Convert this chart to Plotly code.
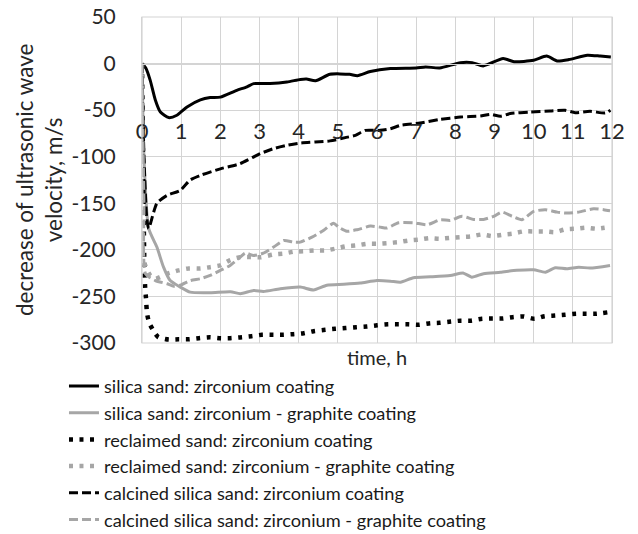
import plotly.graph_objects as go

# ---- data ----
names = [
    "silica sand: zirconium coating",
    "silica sand: zirconium - graphite coating",
    "reclaimed sand: zirconium coating",
    "reclaimed sand: zirconium - graphite coating",
    "calcined silica sand: zirconium coating",
    "calcined silica sand: zirconium - graphite coating",
]

s1_x = [0, 0.1, 0.21, 0.34, 0.47, 0.68, 0.89, 1.15, 1.49, 1.74, 2.0, 2.42, 2.68, 2.85, 3.27, 3.7, 4.04, 4.2, 4.43, 4.8,
        5.3, 5.5, 5.83, 6.34, 7.0, 7.24, 7.6, 8.13, 8.43, 8.71, 9.22, 9.5, 10.0, 10.33, 10.6, 10.9, 11.37, 11.7, 11.97]
s1_y = [0, -5, -18, -39, -52, -58, -55.5, -46.6, -39, -36.5, -36, -28.7, -25, -21.5, -21.5, -19.8, -17, -16.5, -18.5, -11.5,
        -11.5, -13, -8.6, -5.4, -4.7, -3.6, -4.7, 1, 1, -2.5, 5.4, 2, 3.5, 8, 2.8, 4.3, 9, 8, 7]

s2_x = [0, 0.05, 0.17, 0.38, 0.55, 0.72, 0.98, 1.23, 1.74, 2.26, 2.51, 2.85, 3.1, 3.53, 4.04, 4.38, 4.72, 5.15, 5.57,
        6.0, 6.34, 6.6, 6.93, 7.36, 7.87, 8.21, 8.42, 8.72, 9.15, 9.57, 10.0, 10.3, 10.55, 10.85, 11.15, 11.44, 11.95]
s2_y = [0, -100, -177, -197, -218.6, -233, -240, -245.4, -246, -245, -247, -243.6, -244.6, -241.8, -240, -243, -238,
        -237, -235.7, -233, -233.6, -234.7, -230, -229, -227.5, -225, -229.3, -225.6, -224, -222, -221.4, -224, -219.2,
        -220.3, -218.6, -219.6, -216.7]

s3_x = [0, 0.03, 0.06, 0.08, 0.1, 0.13, 0.19, 0.34, 0.42, 0.68, 0.93, 1.19, 1.45, 1.73, 2.0, 2.25, 2.5, 2.8, 3.06, 3.3,
        3.6, 3.87, 4.13, 4.38, 4.68, 4.93, 5.2, 5.47, 5.74, 6.0, 6.28, 6.55, 6.8, 7.06, 7.36, 7.6, 7.89, 8.13, 8.4, 8.68,
        8.94, 9.2, 9.46, 9.74, 10.02, 10.28, 10.55, 10.8, 11.08, 11.34, 11.6, 11.92]
s3_y = [0, -120, -215, -240, -251, -268.6, -279, -290, -293.8, -296.3, -296, -296, -294.8, -293.8, -294.8, -294.8, -294,
        -292.7, -291.2, -291.2, -291.2, -290.5, -289.5, -287.3, -285.8, -284.8, -284, -283, -282.3, -281, -280, -280,
        -280, -280.5, -278.7, -278.3, -277, -276, -276, -274, -273.7, -273.7, -272.3, -271.5, -274, -271.2, -270.5,
        -269.7, -268.6, -268.6, -268.6, -266.9]

s4_x = [0, 0.04, 0.21, 0.34, 0.64, 0.93, 1.19, 1.49, 1.74, 2.0, 2.25, 2.51, 2.77, 3.02, 3.36, 3.62, 3.87, 4.13, 4.42,
        4.68, 4.93, 5.2, 5.47, 5.74, 6.0, 6.28, 6.55, 6.8, 7.06, 7.34, 7.6, 7.89, 8.13, 8.4, 8.68, 8.94, 9.2, 9.46, 9.74,
        10.02, 10.28, 10.55, 10.8, 11.08, 11.34, 11.6, 11.92]
s4_y = [0, -211, -227.5, -231, -225.7, -222, -220, -220, -218.6, -216.7, -211, -207.8, -207.8, -208, -205, -204, -202,
        -201.4, -200.6, -200.6, -198.8, -196.3, -195.3, -193.5, -193.5, -192.7, -191.7, -190, -189, -187.4, -188, -187,
        -186.3, -185.6, -183.5, -185.2, -183.8, -182.7, -180.2, -180.2, -180.2, -181, -178, -177.3, -176.2, -177.3,
        -175.6]

s5_x = [0, 0.05, 0.12, 0.17, 0.38, 0.64, 0.98, 1.23, 1.49, 2.0, 2.5, 3.02, 3.36, 3.7, 4.04, 4.8, 5.19, 5.45, 5.7, 6.08,
        6.34, 6.6, 7.1, 7.6, 8.13, 8.64, 8.9, 9.15, 9.4, 9.91, 10.42, 10.8, 11.06, 11.44, 11.83, 11.96]
s5_y = [0, -100, -165, -177, -150, -141.5, -136, -125, -120, -113, -107.5, -96.7, -91.3, -87.8, -85.3, -83, -79.5, -77,
        -71.7, -71.7, -70, -66.3, -63.8, -60, -57.4, -56.3, -54.5, -56.6, -53.7, -52, -51, -50.2, -52.7, -51.3, -53, -50]

s6_x = [0, 0.05, 0.09, 0.34, 0.64, 0.81, 0.98, 1.23, 1.49, 1.74, 2.0, 2.25, 2.51, 2.64, 2.85, 3.1, 3.36, 3.62, 3.87,
        4.04, 4.34, 4.64, 4.89, 5.02, 5.23, 5.49, 5.83, 6.08, 6.25, 6.55, 6.93, 7.28, 7.62, 7.87, 8.17, 8.47, 8.72, 8.98,
        9.19, 9.45, 9.7, 10.0, 10.3, 10.6, 10.85, 11.15, 11.53, 11.79, 11.95]
s6_y = [0, -150, -225.7, -233, -236.4, -239, -238, -233, -231, -227.5, -222, -216.7, -207.8, -203.5, -206, -203.5, -197,
        -190, -191.7, -191.7, -186.3, -179, -171.3, -175.6, -180, -178.4, -174.5, -175.6, -176.6, -170.9, -170.9, -173,
        -167.6, -168.4, -164, -167.3, -167.3, -164, -159.5, -164, -167.6, -158.7, -156.9, -159.5, -160.5, -159.5,
        -155.8, -156.9, -158]

x_ticks = list(range(0, 13))
y_ticks = list(range(-300, 51, 50))

# ---- styling ----
FONT = "Lato"
BLACK = "#000000"
GRAY = "#a6a6a6"
GRID = "#d4d4d4"

series = [
    (s1_x, s1_y, BLACK, "solid", 3),
    (s2_x, s2_y, GRAY, "solid", 3),
    (s3_x, s3_y, BLACK, "4px,6.5px", 4.5),
    (s4_x, s4_y, GRAY, "4px,6.5px", 4.5),
    (s5_x, s5_y, BLACK, "9px,4px", 3),
    (s6_x, s6_y, GRAY, "9px,4px", 3),
]

fig = go.Figure()
for name, (xs, ys, col, dash, w) in zip(names, series):
    fig.add_trace(go.Scatter(
        x=xs, y=ys, name=name, mode="lines",
        line=dict(color=col, dash=dash, width=w, shape="spline", smoothing=0.6),
    ))

# the page body has an 8px margin, so the figure is sized/offset to compensate
fig.update_layout(
    width=630, height=526,
    margin=dict(l=134, r=26, t=9, b=191, autoexpand=False),
    paper_bgcolor="white", plot_bgcolor="white",
    font=dict(family=FONT, color="#262626"),
    showlegend=True,
    legend=dict(
        x=-0.166, xanchor="left", y=-0.076, yanchor="top",
        font=dict(family=FONT, size=18.2, color="#1a1a1a"),
        bgcolor="rgba(0,0,0,0)", tracegroupgap=0,
    ),
    xaxis=dict(
        range=[0, 12], tickvals=x_ticks, ticktext=[str(v) for v in x_ticks],
        showgrid=True, gridcolor=GRID, gridwidth=1,
        anchor="free", position=300 / 350, side="bottom",
        showline=True, linecolor=GRID, linewidth=1,
        zeroline=False, ticks="", ticklabelstandoff=48, automargin=False,
        ticklabeloverflow="allow",
        tickfont=dict(family=FONT, size=22, color="#262626"),
    ),
    yaxis=dict(
        range=[-300, 50], tickvals=y_ticks, ticktext=[str(v) for v in y_ticks],
        showgrid=True, gridcolor=GRID, gridwidth=1,
        showline=True, mirror=True, linecolor=GRID, linewidth=1,
        zeroline=False, ticks="", ticklabelstandoff=21, automargin=False,
        ticklabeloverflow="allow",
        tickfont=dict(family=FONT, size=21, color="#262626"),
    ),
    annotations=[
        dict(text="time, h", xref="paper", yref="paper", x=0.5, y=-0.042,
             xanchor="center", yanchor="middle", showarrow=False,
             font=dict(family=FONT, size=20, color="#262626")),
        dict(text="decrease of ultrasonic wave<br>velocity, m/s", xref="paper", yref="paper",
             x=-0.219, y=0.5, xanchor="center", yanchor="middle", textangle=-90, showarrow=False,
             font=dict(family=FONT, size=22.5, color="#262626")),
    ],
    shapes=[
        dict(type="rect", xref="paper", yref="paper", x0=0, x1=1, y0=0, y1=1,
             line=dict(color=GRID, width=1.2), layer="above"),
    ],
)

fig.write_html("out.html")
